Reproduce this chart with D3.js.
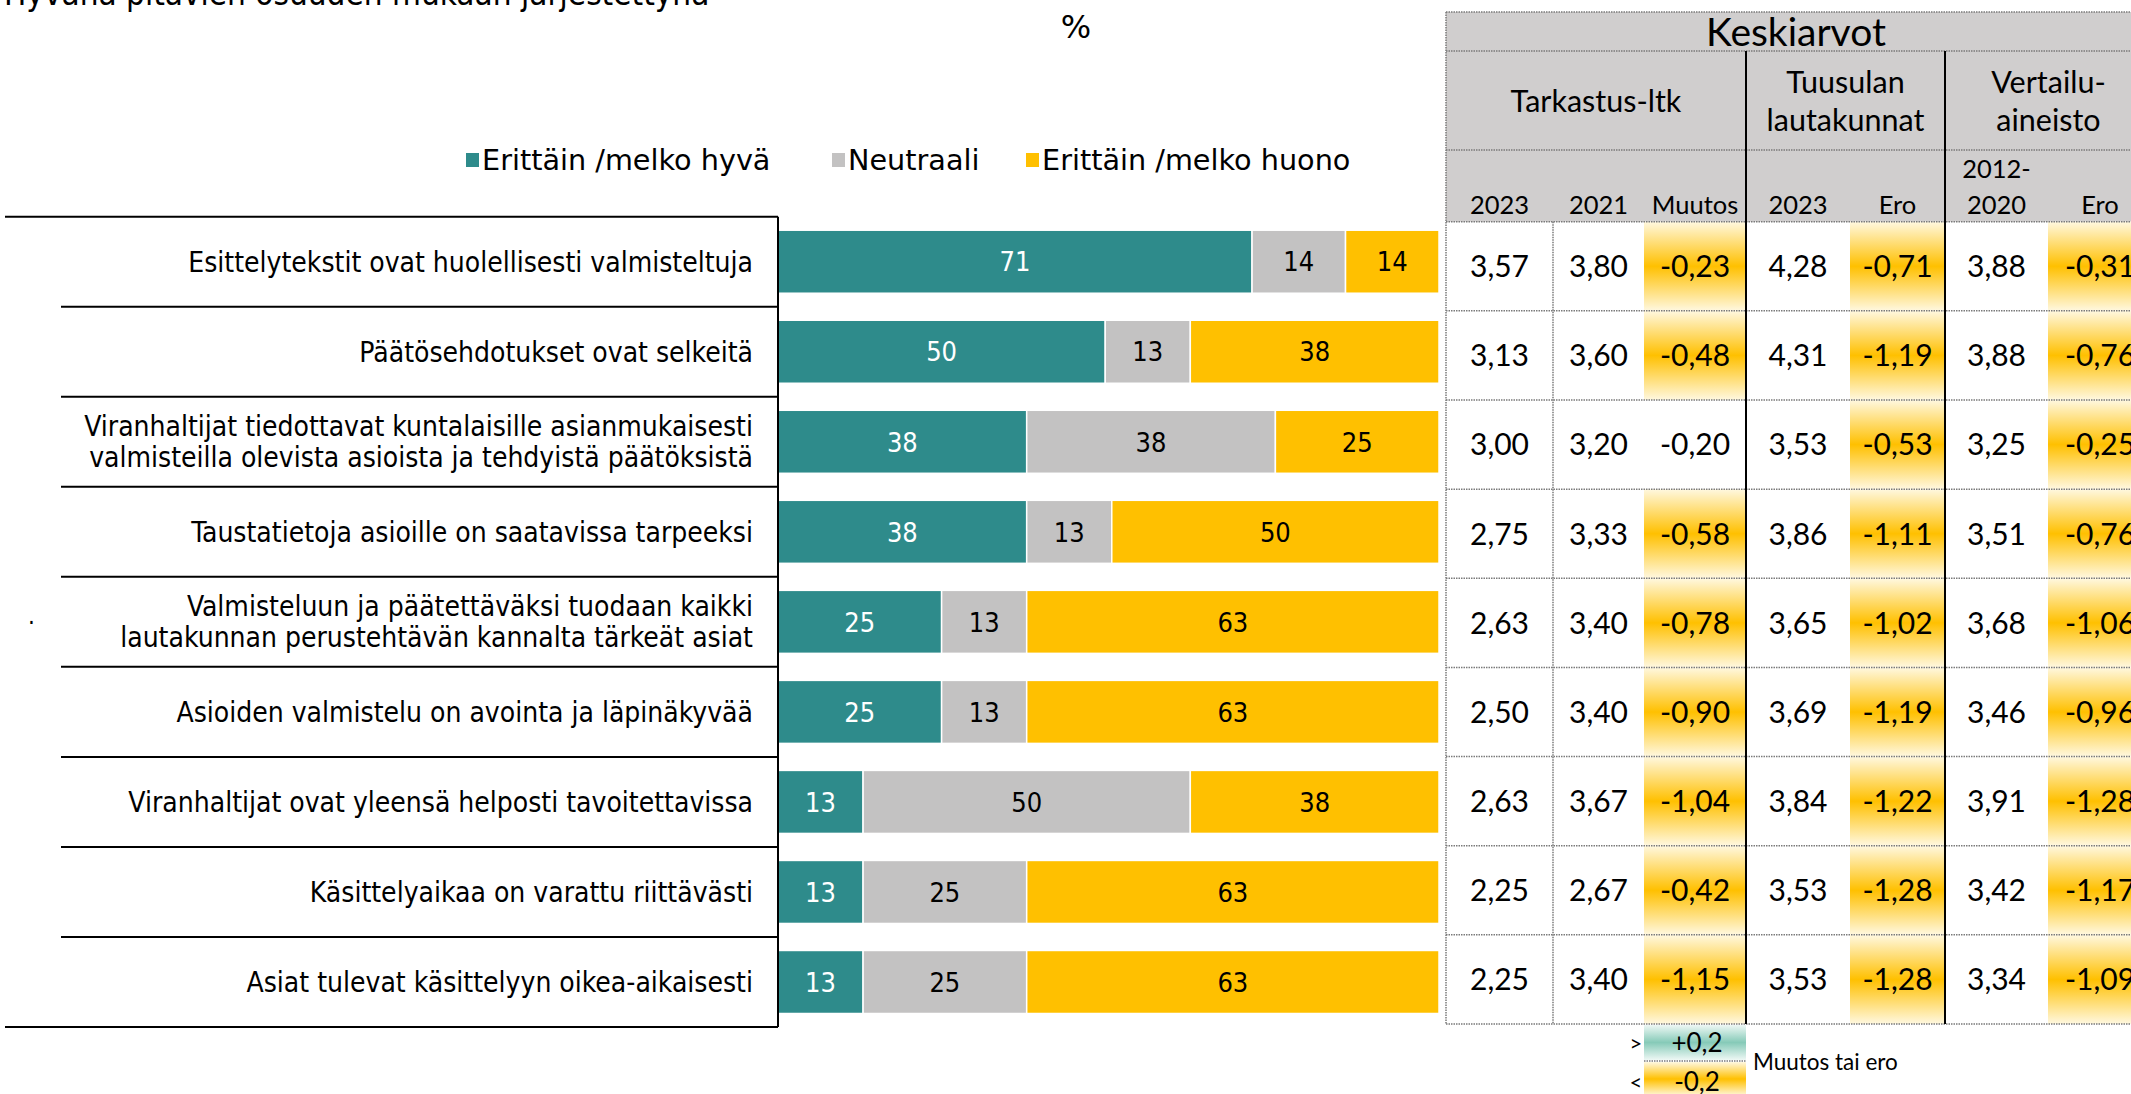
<!DOCTYPE html>
<html>
<head>
<meta charset="utf-8">
<script src="https://cdn.jsdelivr.net/npm/d3@7"></script>
<style>
  body { margin: 0; background: #fff; overflow: hidden; }
</style>
</head>
<body>
<script>
// rows of the chart, top to bottom
const categories = [
    "Esittelytekstit ovat huolellisesti valmisteltuja",
    "Päätösehdotukset ovat selkeitä",
    "Viranhaltijat tiedottavat kuntalaisille asianmukaisesti\nvalmisteilla olevista asioista ja tehdyistä päätöksistä",
    "Taustatietoja asioille on saatavissa tarpeeksi",
    "Valmisteluun ja päätettäväksi tuodaan kaikki\nlautakunnan perustehtävän kannalta tärkeät asiat",
    "Asioiden valmistelu on avointa ja läpinäkyvää",
    "Viranhaltijat ovat yleensä helposti tavoitettavissa",
    "Käsittelyaikaa on varattu riittävästi",
    "Asiat tulevat käsittelyyn oikea-aikaisesti"
];
const seriesNames = ["Erittäin /melko hyvä", "Neutraali", "Erittäin /melko huono"];
const good    = [71, 50, 38, 38, 25, 25, 13, 13, 13];
const neutral = [14, 13, 38, 13, 13, 13, 50, 25, 25];
const bad     = [14, 38, 25, 50, 63, 63, 38, 63, 63];

// table of means
const tk2023   = [3.57, 3.13, 3.00, 2.75, 2.63, 2.50, 2.63, 2.25, 2.25];
const tk2021   = [3.80, 3.60, 3.20, 3.33, 3.40, 3.40, 3.67, 2.67, 3.40];
const muutos   = [-0.23, -0.48, -0.20, -0.58, -0.78, -0.90, -1.04, -0.42, -1.15];
const tuus2023 = [4.28, 4.31, 3.53, 3.86, 3.65, 3.69, 3.84, 3.53, 3.53];
const tuusEro  = [-0.71, -1.19, -0.53, -1.11, -1.02, -1.19, -1.22, -1.28, -1.28];
const vert     = [3.88, 3.88, 3.25, 3.51, 3.68, 3.46, 3.91, 3.42, 3.34];
const vertEro  = [-0.31, -0.76, -0.25, -0.76, -1.06, -0.96, -1.28, -1.17, -1.09];
const colHeads = ["2023", "2021", "Muutos", "2023", "Ero", "2012-\n2020", "Ero"];
const groupHeads = ["Tarkastus-ltk", "Tuusulan\nlautakunnat", "Vertailu-\naineisto"];

const colors = ["#2e8b8b", "#c3c2c2", "#ffc000"];
const labelFont = "'DejaVu Sans Condensed', 'DejaVu Sans', sans-serif";
const tableFont = "Lato, 'Open Sans', sans-serif";

const svg = d3.select("body").append("svg")
    .attr("width", 2131)
    .attr("height", 1094);

const defs = svg.append("defs");
function grad(id, mid, edge) {
    const g = defs.append("linearGradient").attr("id", id)
        .attr("x1", 0).attr("y1", 0).attr("x2", 0).attr("y2", 1);
    g.append("stop").attr("offset", "0%").attr("stop-color", edge);
    g.append("stop").attr("offset", "50%").attr("stop-color", mid);
    g.append("stop").attr("offset", "100%").attr("stop-color", edge);
}
grad("gYel", "#ffc000", "#fff8e0");
grad("gTeal", "#86cab8", "#eef8f5");

// cut-off title at the very top
svg.append("text")
    .attr("x", 4).attr("y", 5)
    .style("font-family", labelFont).style("font-size", "33px")
    .text("Hyvänä pitävien osuuden mukaan järjestettynä");

svg.append("text")
    .attr("x", 1076).attr("y", 38)
    .attr("text-anchor", "middle")
    .style("font-family", "'DejaVu Sans', sans-serif").style("font-size", "32px")
    .text("%");

// legend
const legendX = [466, 832, 1026];
const legend = svg.append("g");
seriesNames.forEach((name, i) => {
    legend.append("rect")
        .attr("x", legendX[i]).attr("y", 153)
        .attr("width", 13).attr("height", 14)
        .attr("fill", colors[i]);
    legend.append("text")
        .attr("x", legendX[i] + 16).attr("y", 170)
        .style("font-family", "'DejaVu Sans', sans-serif").style("font-size", "28.7px")
        .text(name);
});

// bars
const rows = d3.range(categories.length);
const y = d3.scaleBand().domain(rows).range([216.7, 1027]).paddingInner(0.3).paddingOuter(0.15);
const yRow = d3.scaleBand().domain(rows).range([216.7, 1027]);
const x = d3.scaleLinear().domain([0, 1]).range([778, 1439]);

const table = rows.map(i => ({ i: i, good: good[i], neutral: neutral[i], bad: bad[i] }));
const stack = d3.stack().keys(["good", "neutral", "bad"]).offset(d3.stackOffsetExpand);
const series = stack(table);
const raw = [good, neutral, bad];

const layers = svg.append("g").selectAll("g")
    .data(series)
    .join("g")
    .attr("fill", (d, k) => colors[k]);

layers.selectAll("rect")
    .data(d => d)
    .join("rect")
    .attr("x", d => x(d[0]))
    .attr("y", d => y(d.data.i))
    .attr("width", d => x(d[1]) - x(d[0]))
    .attr("height", y.bandwidth())
    .attr("stroke", "#fff")
    .attr("stroke-width", 1.5);

series.forEach((s, k) => {
    svg.append("g").selectAll("text")
        .data(s)
        .join("text")
        .attr("x", d => (x(d[0]) + x(d[1])) / 2)
        .attr("y", d => y(d.data.i) + y.bandwidth() / 2)
        .attr("dy", "0.36em")
        .attr("text-anchor", "middle")
        .attr("fill", k === 0 ? "#fff" : "#000")
        .style("font-family", labelFont).style("font-size", "27px")
        .text(d => raw[k][d.data.i]);
});

// category panel lines
const panel = svg.append("g").attr("stroke", "#000").attr("stroke-width", 2);
rows.concat([categories.length]).forEach(i => {
    const yy = i === categories.length ? 1027 : yRow(i);
    const edge = (i === 0 || i === categories.length);
    panel.append("line")
        .attr("x1", edge ? 5 : 61).attr("x2", 778)
        .attr("y1", yy).attr("y2", yy);
});
panel.append("line").attr("x1", 778).attr("x2", 778).attr("y1", 216.7).attr("y2", 1027);

// category labels
const labels = svg.append("g")
    .style("font-family", labelFont).style("font-size", "28px");
categories.forEach((c, i) => {
    const lines = c.split("\n");
    const cy = yRow(i) + yRow.bandwidth() / 2;
    lines.forEach((ln, j) => {
        labels.append("text")
            .attr("x", 753)
            .attr("y", cy + (j - (lines.length - 1) / 2) * 31)
            .attr("dy", "0.36em")
            .attr("text-anchor", "end")
            .text(ln);
    });
});
svg.append("text").attr("x", 28).attr("y", 624)
    .style("font-family", labelFont).style("font-size", "24px").text(".");

// ---- table of means ----
const colX = [1446, 1553, 1644, 1746, 1850, 1945, 2048, 2152];
const tRow = d3.scaleBand().domain(rows).range([221.7, 1024]);
const fmt = d3.formatLocale({ decimal: ",", thousands: " ", grouping: [3], currency: ["", ""], minus: "-" }).format(".2f");
const cols = [
    { v: tk2023, diff: false }, { v: tk2021, diff: false }, { v: muutos, diff: true },
    { v: tuus2023, diff: false }, { v: tuusEro, diff: true },
    { v: vert, diff: false }, { v: vertEro, diff: true }
];

const tg = svg.append("g");
tg.append("rect").attr("x", 1446).attr("y", 12)
    .attr("width", 2131 - 1446).attr("height", 221.7 - 12)
    .attr("fill", "#d0cece");

cols.forEach((c, k) => {
    rows.forEach(i => {
        const v = c.v[i];
        let fill = null;
        if (c.diff && v < -0.2) fill = "url(#gYel)";
        if (c.diff && v > 0.2) fill = "url(#gTeal)";
        if (fill) {
            tg.append("rect")
                .attr("x", colX[k]).attr("y", tRow(i))
                .attr("width", colX[k + 1] - colX[k]).attr("height", tRow.bandwidth())
                .attr("fill", fill);
        }
        tg.append("text")
            .attr("x", (colX[k] + colX[k + 1]) / 2)
            .attr("y", tRow(i) + tRow.bandwidth() / 2)
            .attr("dy", "0.36em")
            .attr("text-anchor", "middle")
            .style("font-family", tableFont).style("font-size", "30px")
            .text(fmt(v));
    });
    const hl = colHeads[k].split("\n");
    hl.forEach((h, j) => {
        tg.append("text")
            .attr("x", (colX[k] + colX[k + 1]) / 2)
            .attr("y", 214 - (hl.length - 1 - j) * 36)
            .attr("text-anchor", "middle")
            .style("font-family", tableFont).style("font-size", "25.5px")
            .text(h);
    });
});

tg.append("text").attr("x", 1796).attr("y", 46)
    .attr("text-anchor", "middle")
    .style("font-family", tableFont).style("font-size", "39px")
    .text("Keskiarvot");

const groupCx = [(colX[0] + colX[3]) / 2, (colX[3] + colX[5]) / 2, (colX[5] + colX[7]) / 2];
groupHeads.forEach((g, k) => {
    const gl = g.split("\n");
    gl.forEach((t, j) => {
        tg.append("text")
            .attr("x", groupCx[k])
            .attr("y", 101 + (j - (gl.length - 1) / 2) * 38)
            .attr("dy", "0.36em")
            .attr("text-anchor", "middle")
            .style("font-family", tableFont).style("font-size", "30.5px")
            .text(t);
    });
});

// dotted grid
const dots = tg.append("g").attr("stroke", "#7a7a7a").attr("stroke-width", 1.5)
    .attr("stroke-dasharray", "1.5,1");
[12, 51, 150, 221.7].concat(rows.map(i => tRow(i) + tRow.bandwidth())).forEach(yy => {
    dots.append("line").attr("x1", 1446).attr("x2", 2131).attr("y1", yy).attr("y2", yy);
});
dots.append("line").attr("x1", 1446).attr("x2", 1446).attr("y1", 12).attr("y2", 1024);
dots.append("line").attr("x1", 1553).attr("x2", 1553).attr("y1", 221.7).attr("y2", 1024);

// solid group separators
[1746, 1945].forEach(xx => {
    tg.append("line").attr("x1", xx).attr("x2", xx).attr("y1", 51).attr("y2", 1024)
        .attr("stroke", "#000").attr("stroke-width", 2);
});

// colour key under the table
tg.append("rect").attr("x", 1644).attr("y", 1025).attr("width", 102).attr("height", 35).attr("fill", "url(#gTeal)");
tg.append("rect").attr("x", 1644).attr("y", 1062).attr("width", 102).attr("height", 34).attr("fill", "url(#gYel)");
tg.append("line").attr("x1", 1644).attr("x2", 1746).attr("y1", 1061).attr("y2", 1061)
    .attr("stroke", "#7a7a7a").attr("stroke-width", 1.5).attr("stroke-dasharray", "1.5,1");
const keyText = [[">", "+0,2", 1043], ["<", "-0,2", 1082]];
keyText.forEach(kt => {
    tg.append("text").attr("x", 1636).attr("y", kt[2]).attr("dy", "0.36em")
        .attr("text-anchor", "middle")
        .style("font-family", tableFont).style("font-size", "22px").text(kt[0]);
    tg.append("text").attr("x", 1697).attr("y", kt[2]).attr("dy", "0.36em")
        .attr("text-anchor", "middle")
        .style("font-family", tableFont).style("font-size", "26px").text(kt[1]);
});
tg.append("text").attr("x", 1753).attr("y", 1062).attr("dy", "0.36em")
    .style("font-family", tableFont).style("font-size", "22.5px").text("Muutos tai ero");
</script>
</body>
</html>
